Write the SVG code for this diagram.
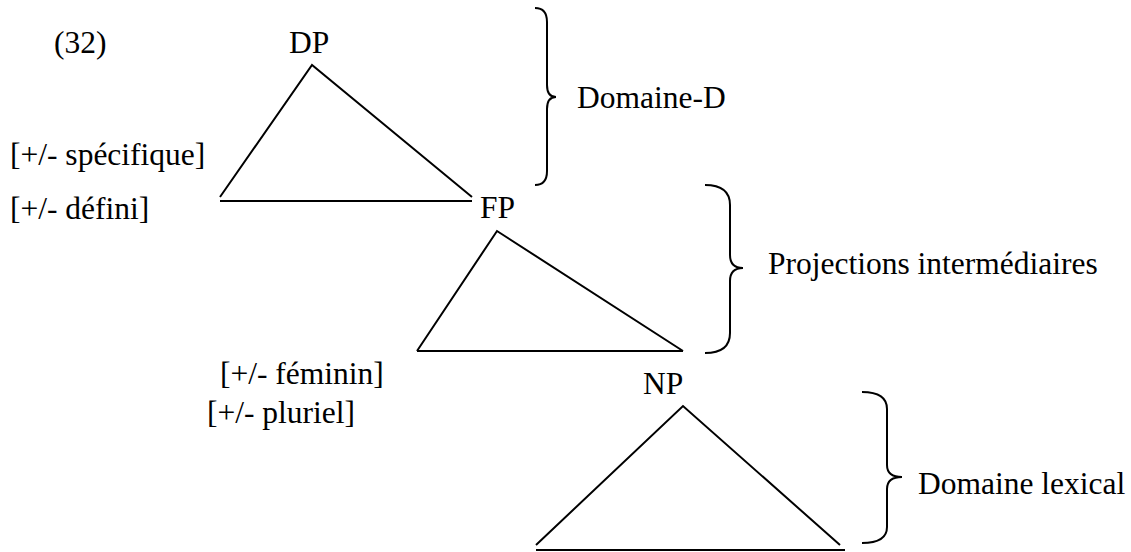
<svg xmlns="http://www.w3.org/2000/svg" width="1131" height="552" viewBox="0 0 1131 552">
<style>
text { font-family: "Liberation Serif", "Times New Roman", serif; font-size: 31.5px; fill: #000; }
.ln { fill: none; stroke: #000; stroke-width: 2; stroke-linecap: butt; }
</style>
<rect width="1131" height="552" fill="#fff"/>
<g id="label-32"><text x="54" y="53">(32)</text></g>
<g id="node-DP"><text x="289" y="53">DP</text></g>
<g id="feat-specifique"><text x="10" y="165">[+/- spécifique]</text></g>
<g id="feat-defini"><text x="10" y="219">[+/- défini]</text></g>
<g id="node-FP"><text x="480" y="218">FP</text></g>
<g id="feat-feminin"><text x="220" y="384">[+/- féminin]</text></g>
<g id="feat-pluriel"><text x="207" y="423">[+/- pluriel]</text></g>
<g id="node-NP"><text x="643" y="394">NP</text></g>
<g id="label-domaineD"><text x="577" y="108">Domaine-D</text></g>
<g id="label-projections"><text x="768" y="274">Projections intermédiaires</text></g>
<g id="label-lexical"><text x="918" y="494">Domaine lexical</text></g>
<g id="connectors">
  <g id="triangle-DP">
    <polyline class="ln" points="220,197 312,65 472,197"/>
    <line class="ln" x1="220" y1="201" x2="472" y2="201"/>
  </g>
  <g id="triangle-FP">
    <polyline class="ln" points="417,351 497,231 683,351"/>
    <line class="ln" x1="417" y1="351" x2="683" y2="351"/>
  </g>
  <g id="triangle-NP">
    <polyline class="ln" points="536,545 683,406 840,545"/>
    <line class="ln" x1="536" y1="550" x2="845" y2="550"/>
  </g>
  <path id="brace-D" class="ln" d="M535,8 Q547,8 547,22 L547,85 Q547,97 556,97 Q547,97 547,109 L547,171 Q547,185 535,185"/>
  <path id="brace-proj" class="ln" d="M705,185 Q730,185 730,205 L730,255 Q730,268 743,268 Q730,268 730,281 L730,333 Q730,353 705,353"/>
  <path id="brace-lex" class="ln" d="M862,392 Q887,392 887,409 L887,465 Q887,477 902,477 Q887,477 887,489 L887,527 Q887,543 862,543"/>
</g>
</svg>
